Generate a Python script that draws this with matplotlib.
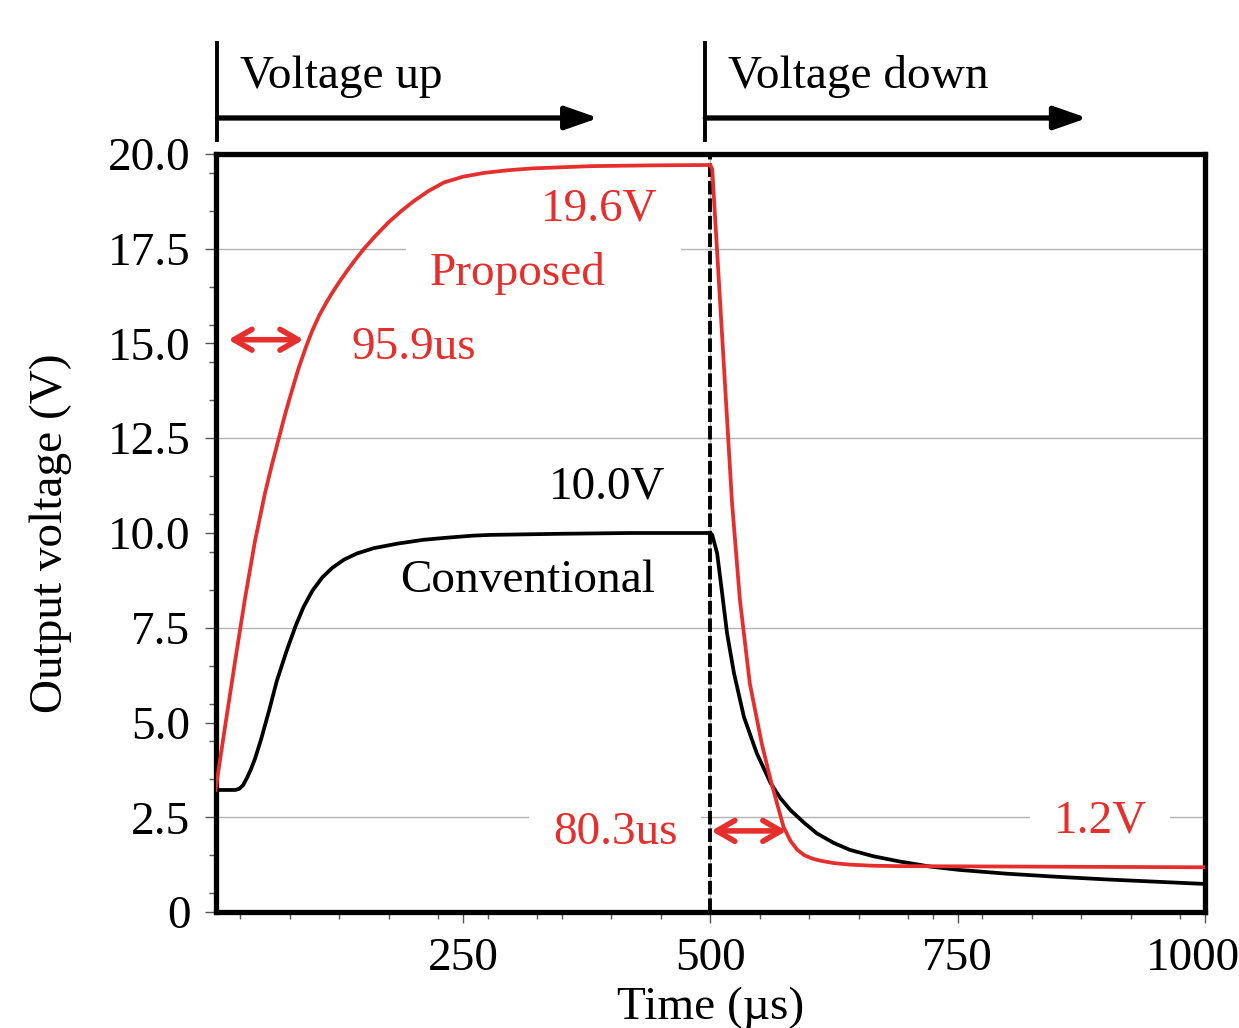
import matplotlib
matplotlib.use("Agg")
import matplotlib.pyplot as plt
import matplotlib.transforms as mtransforms

plt.rcParams['font.family'] = ['Liberation Serif', 'DejaVu Serif']

RED = '#e62e2d'

# proposed converter, voltage up then down
t_prop = [0, 10, 20, 30, 40, 50, 57, 64, 70, 76, 84, 92, 98, 105, 112, 118, 125, 133, 141, 150, 162, 175, 188, 200, 215, 231, 250, 271, 295, 320, 350, 380, 440, 500,
          502, 512, 522, 530, 540, 552, 561, 574, 581, 588, 595, 603, 612, 625, 641, 665, 692, 800, 900, 1000]
v_prop = [3.22, 4.95, 6.65, 8.3, 9.8, 11.05, 11.8, 12.5, 13.1, 13.65, 14.35, 14.95, 15.35, 15.75, 16.08, 16.34, 16.62, 16.92, 17.2, 17.5, 17.85, 18.2, 18.5, 18.75, 19.02, 19.25, 19.4, 19.5, 19.57, 19.62, 19.65, 19.68, 19.7, 19.71,
          19.6, 15.2, 10.8, 8.23, 6.03, 4.45, 3.48, 2.25, 1.88, 1.64, 1.5, 1.41, 1.35, 1.29, 1.25, 1.22, 1.21, 1.20, 1.19, 1.18]

# conventional converter
t_conv = [0, 20, 24, 28, 32, 36, 40, 46, 54, 62, 72, 81, 89, 98, 108, 118, 130, 143, 160, 184, 210, 231, 260, 278, 350, 420, 500,
          502, 507, 512, 517, 524, 534, 547, 561, 571, 581, 595, 608, 625, 641, 665, 692, 722, 752, 800, 850, 900, 950, 1000]
v_conv = [3.22, 3.22, 3.25, 3.35, 3.55, 3.78, 4.05, 4.55, 5.3, 6.1, 6.9, 7.55, 8.05, 8.48, 8.83, 9.08, 9.3, 9.46, 9.6, 9.72, 9.82, 9.87, 9.93, 9.95, 9.98, 10.0, 10.0,
          9.95, 9.46, 8.41, 7.35, 6.3, 5.15, 4.19, 3.4, 3.0, 2.69, 2.35, 2.07, 1.82, 1.64, 1.47, 1.33, 1.2, 1.11, 1.01, 0.93, 0.86, 0.80, 0.74]

y_major = [0, 2.5, 5, 7.5, 10, 12.5, 15, 17.5, 20]
y_labels = ['0', '2.5', '5.0', '7.5', '10.0', '12.5', '15.0', '17.5', '20.0']
y_minor = [0.5 + i for i in range(20)]
y_grid = [2.5, 7.5, 12.5, 17.5]
x_major = [250, 500, 750, 1000]
x_minor = [25, 75, 125, 175, 225, 275, 325, 350, 400, 450, 550, 600, 650, 700, 725, 775, 825, 875, 925, 975]

fs = 34

fig = plt.figure(figsize=(12.39, 10.28), dpi=100)
ax = fig.add_axes([215.5 / 1239, 1 - 912 / 1028, 989.5 / 1239, 758 / 1028])

for g in y_grid:
    ax.axhline(g, color='#b4b4b4', lw=1, zorder=0.5)
ax.axvline(500, color='#b4b4b4', lw=1, zorder=0.5)
ax.axvline(500, color='k', lw=2.8, ls=(0, (3.5, 1.0)), zorder=3.5)

ax.plot(t_conv, v_conv, color='k', lw=2.7, zorder=4, solid_joinstyle='round')
ax.plot(t_prop, v_prop, color=RED, lw=2.7, zorder=4.5, solid_joinstyle='round')

ax.set_xlim(0, 1000)
ax.set_ylim(0, 20)
ax.set_yticks(y_major)
ax.set_yticklabels(y_labels)
ax.set_yticks(y_minor, minor=True)
ax.set_xticks(x_major)
ax.set_xticks(x_minor, minor=True)
ax.tick_params(axis='both', which='major', labelsize=fs, length=8, width=1, color='#555555', pad=10)
ax.tick_params(axis='both', which='minor', length=5, width=1, color='#555555')
ax.set_xlabel('Time (µs)', fontsize=fs, labelpad=5)
ax.set_ylabel('Output voltage (V)', fontsize=fs, labelpad=26)
for s in ax.spines.values():
    s.set_linewidth(3.8)

# last x label sits a bit left so it stays inside the figure
last = ax.get_xticklabels()[-1]
last.set_transform(last.get_transform() + mtransforms.ScaledTranslation(-12 / 100, 0, fig.dpi_scale_trans))

# annotations
box = dict(boxstyle='square,pad=0.5', fc='white', ec='none')
ax.text(388, 18.55, '19.6V', color=RED, fontsize=fs, ha='center', va='center', bbox=box, zorder=3)
ax.text(305, 16.85, 'Proposed', color=RED, fontsize=fs, ha='center', va='center', bbox=box, zorder=3)
ax.text(200, 14.9, '95.9us', color=RED, fontsize=fs, ha='center', va='center', zorder=3)
ax.text(396, 11.2, '10.0V', color='k', fontsize=fs, ha='center', va='center', zorder=3)
ax.text(315, 8.75, 'Conventional', color='k', fontsize=fs, ha='center', va='center', zorder=3)
ax.text(404, 2.1, '80.3us', color=RED, fontsize=fs, ha='center', va='center', bbox=box, zorder=3)
ax.text(894, 2.4, '1.2V', color=RED, fontsize=fs, ha='center', va='center', bbox=box, zorder=3)

arr = dict(arrowstyle='<->,head_length=1.3,head_width=0.75', lw=4, color=RED, capstyle='round',
           joinstyle='round', shrinkA=0, shrinkB=0)
ax.annotate('', xy=(89, 15.1), xytext=(13, 15.1), arrowprops=arr, zorder=5)
ax.annotate('', xy=(577, 2.14), xytext=(501, 2.14), arrowprops=arr, zorder=5)

# voltage up / down markers above the frame
top = dict(arrowstyle='-|>,head_length=2.0,head_width=0.7', lw=3.8, color='k', shrinkA=0, shrinkB=0)
for x0, x1, lab in [(2, 387, 'Voltage up'), (495, 881, 'Voltage down')]:
    ax.plot([x0, x0], [20.37, 22.93], color='k', lw=2.8, clip_on=False)
    ax.annotate('', xy=(x1, 20.95), xytext=(x0, 20.95), arrowprops=top, annotation_clip=False)
    ax.text(x0 + 23, 22.05, lab, fontsize=fs, ha='left', va='center', clip_on=False)

fig.savefig('out.png', dpi=100)
